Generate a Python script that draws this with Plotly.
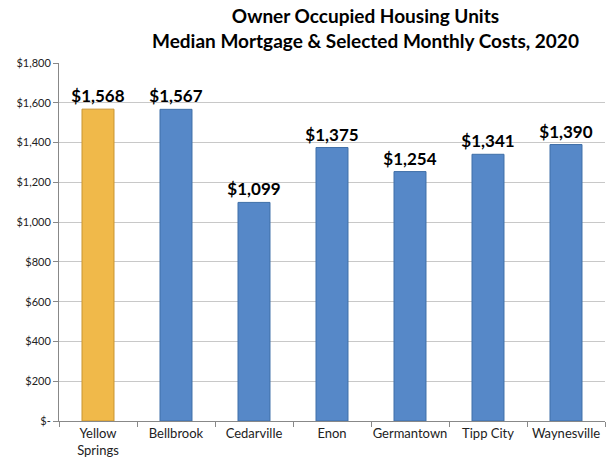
import plotly.graph_objects as go

categories = ["Yellow<br>Springs", "Bellbrook", "Cedarville", "Enon", "Germantown", "Tipp City", "Waynesville"]
values = [1568, 1567, 1099, 1375, 1254, 1341, 1390]
bar_colors = ["#F0B94A", "#5688C8", "#5688C8", "#5688C8", "#5688C8", "#5688C8", "#5688C8"]
line_colors = ["#C89530", "#3F6FA8", "#3F6FA8", "#3F6FA8", "#3F6FA8", "#3F6FA8", "#3F6FA8"]
tick_vals = [0, 200, 400, 600, 800, 1000, 1200, 1400, 1600, 1800]
tick_text = ["$-", "$200", "$400", "$600", "$800", "$1,000", "$1,200", "$1,400", "$1,600", "$1,800"]
labels = ["${:,}".format(v) for v in values]
title_text = "<b>Owner Occupied Housing Units<br>Median Mortgage & Selected Monthly Costs, 2020</b>"

fig = go.Figure(go.Bar(
    x=categories, y=values,
    marker=dict(color=bar_colors, line=dict(color=line_colors, width=1)),
    width=0.41,
    text=labels, textposition="outside", constraintext="none",
    textfont=dict(family="Lato", size=17, color="black", weight="bold"),
    cliponaxis=False,
))

fig.update_layout(
    width=606, height=466,
    margin=dict(l=59, r=1, t=63, b=45, autoexpand=False),
    plot_bgcolor="white", paper_bgcolor="white",
    showlegend=False,
    font=dict(family="Lato", color="#222222"),
    annotations=[dict(
        text=title_text, xref="paper", yref="paper",
        x=0.562, y=1.099, xanchor="center", yanchor="middle",
        showarrow=False, align="center",
        font=dict(family="Lato", size=19, color="black"),
    )],
)
fig.update_xaxes(
    range=[-0.5, 6.5], automargin=False, tickangle=0,
    showline=True, linecolor="#888888", linewidth=1,
    ticks="outside", tickson="boundaries", ticklen=5, tickcolor="#888888",
    tickfont=dict(size=13, color="#222222"),
    showgrid=False,
)
fig.update_yaxes(
    range=[0, 1800], automargin=False,
    tickvals=tick_vals, ticktext=tick_text,
    showline=True, linecolor="#888888", linewidth=1,
    ticks="outside", ticklen=5, tickcolor="#888888",
    tickfont=dict(size=11, color="#222222"),
    showgrid=True, gridcolor="#C8C8C8", gridwidth=1,
    zeroline=False,
)

fig.write_html("out.html", config={"displayModeBar": False},
               post_script="document.body.style.margin='0';")
